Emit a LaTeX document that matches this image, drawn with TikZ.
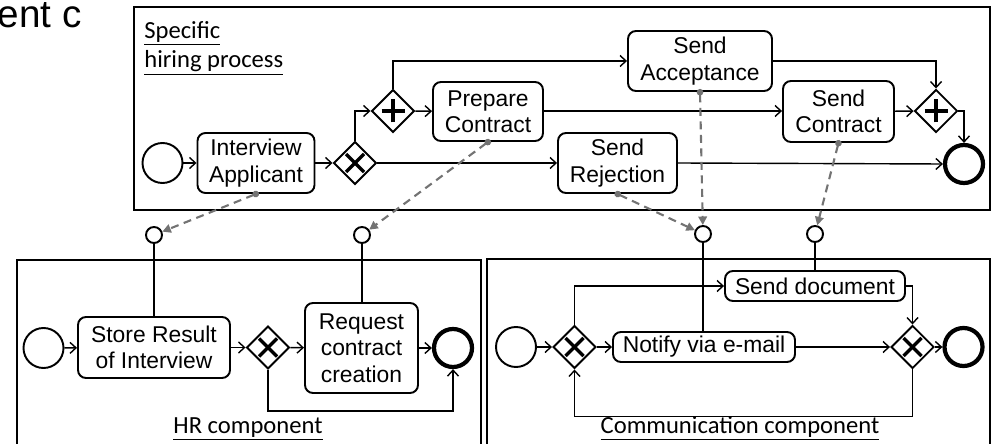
\documentclass[tikz,border=0pt]{standalone}
\usepackage{fontspec}
\setmainfont{Liberation Sans}
\newfontfamily\lanefont{Carlito}
\usetikzlibrary{arrows.meta, shapes.geometric}

\begin{document}
\begin{tikzpicture}[x=0.2mm, y=-0.2mm,
    font=\fontsize{13}{15}\selectfont,
    pool/.style={draw, line width=1.4pt},
    task/.style={draw, rounded corners=1.6mm, line width=1.1pt, align=center, inner sep=0pt},
    startev/.style={circle, draw, line width=1.1pt, minimum size=8mm, inner sep=0pt},
    endev/.style={circle, draw, line width=2.4pt, minimum size=7.6mm, inner sep=0pt},
    gateway/.style={diamond, draw, line width=1.1pt, minimum width=8.6mm, minimum height=8.6mm, inner sep=0pt},
    xorgw/.style={gateway, path picture={
        \draw[line width=1.9pt] ([shift={(-1.8mm,-1.8mm)}]path picture bounding box.center) -- ([shift={(1.8mm,1.8mm)}]path picture bounding box.center);
        \draw[line width=1.9pt] ([shift={(-1.8mm,1.8mm)}]path picture bounding box.center) -- ([shift={(1.8mm,-1.8mm)}]path picture bounding box.center);}},
    andgw/.style={gateway, path picture={
        \draw[line width=1.9pt] ([xshift=-2.3mm]path picture bounding box.center) -- ([xshift=2.3mm]path picture bounding box.center);
        \draw[line width=1.9pt] ([yshift=-2.3mm]path picture bounding box.center) -- ([yshift=2.3mm]path picture bounding box.center);}},
    port/.style={circle, draw, line width=1.1pt, minimum size=3.2mm, inner sep=0pt},
    flow/.style={line width=0.8pt, -{Straight Barb[length=1.2mm, width=2.2mm]}},
    wire/.style={line width=1.3pt},
    usage/.style={draw=black!55, line width=1.2pt, dash pattern=on 1.6mm off 1.1mm, shorten <=-0.6mm,
        {Circle[length=1.3mm, fill=black!55]}-{Triangle[length=1.7mm, width=1.7mm, fill=black!55]}},
    lanetitle/.style={font=\lanefont\fontsize{14}{16.5}\selectfont, inner sep=0pt}]
\useasboundingbox (0,0) rectangle (992,444);

% cut off heading
\node[anchor=base east, inner sep=0pt, font=\fontsize{22}{26}\selectfont] (heading) at (82,28) {ent c};

% Specific hiring process
\draw[pool] (134,7) rectangle (990,210);
\node[lanetitle, anchor=north west, align=left] (hiringtitle) at (144,21) {\underline{Specific}\\\underline{hiring process}};

\node[startev] (hstart) at (162.5,163) {};
\node[task, minimum width=23.4mm, minimum height=12mm] (interview) at (256,163) {Interview\\Applicant};
\node[xorgw] (hxor) at (355,163) {};
\node[andgw] (hsplit) at (393,111) {};
\node[task, minimum width=22mm, minimum height=11.8mm] (prepare) at (488,111.5) {Prepare\\Contract};
\node[task, minimum width=28.8mm, minimum height=12mm] (accept) at (700,61) {Send\\Acceptance};
\node[task, minimum width=22.2mm, minimum height=12.2mm] (contract) at (838.5,111.5) {Send\\Contract};
\node[andgw] (hjoin) at (936,111) {};
\node[task, minimum width=23.8mm, minimum height=12mm] (rejection) at (617.5,163) {Send\\Rejection};
\node[endev] (hend) at (964,164) {};

\draw[flow] (hstart) -- (interview);
\draw[flow] (interview) -- (hxor);
\draw[flow] (hxor.north) |- (hsplit.west);
\draw[flow] (hsplit) -- (prepare);
\draw[flow] (hsplit.north) |- (accept.west);
\draw[flow] (accept.east) -| (hjoin.north);
\draw[flow] (prepare.east |- hjoin) -- (contract.west |- hjoin);
\draw[flow] (contract) -- (hjoin);
\draw[flow] (hjoin.east) -| (hend.north);
\draw[flow] (hxor) -- (rejection);
\draw[flow] (rejection.east) -- (hend.west);

% HR component
\draw[pool] (17,260) rectangle (481,470);
\node[lanetitle, anchor=base] (hrtitle) at (248,433) {\underline{HR component}};

\node[port] (hrport1) at (154,235) {};
\node[port] (hrport2) at (362,235) {};
\node[startev] (rstart) at (43.5,348) {};
\node[task, minimum width=30.4mm, minimum height=12.2mm] (store) at (154,347.5) {Store Result\\of Interview};
\node[xorgw] (rxor) at (268,347.5) {};
\node[task, minimum width=22.6mm, minimum height=18mm] (request) at (361.5,348) {Request\\contract\\creation};
\node[endev] (rend) at (453,348) {};

\draw[flow] (rstart) -- (store);
\draw[flow] (store) -- (rxor);
\draw[flow] (rxor) -- (request);
\draw[flow] (request) -- (rend);
\draw[flow] (rxor.south) -- ++(0,41) -| (rend.south);
\draw[wire] (hrport1) -- (hrport1 |- store.north);
\draw[wire] (hrport2) -- (hrport2 |- request.north);

% Communication component
\draw[pool] (487,259) rectangle (990,470);
\node[lanetitle, anchor=base] (comtitle) at (740,433) {\underline{Communication component}};

\node[port] (comport1) at (703,234) {};
\node[port] (comport2) at (815,234) {};
\node[startev] (cstart) at (516,347) {};
\node[xorgw] (csplit) at (574.5,347) {};
\node[task, minimum width=36.4mm, minimum height=6mm] (notify) at (704,347) {Notify via e-mail};
\node[task, minimum width=36mm, minimum height=6mm] (senddoc) at (815,286) {Send document};
\node[xorgw] (cjoin) at (912.5,347) {};
\node[endev] (cend) at (963.5,347) {};

\draw[wire] (comport1) -- (comport1 |- notify.north);
\draw[wire] (comport2) -- (senddoc.north);
\draw[flow] (cstart) -- (csplit);
\draw[flow] (csplit) -- (notify);
\draw[flow] (notify) -- (cjoin);
\draw[flow] (cjoin) -- (cend);
\draw[flow] (csplit.north) |- (senddoc.west);
\draw[flow] (senddoc.east) -| (cjoin.north);
\draw[flow] (cjoin.south) -- ++(0,47) -| (csplit.south);

% usage of the components
\draw[usage] (interview.south) -- (hrport1);
\draw[usage] (prepare.south) -- (hrport2);
\draw[usage] (rejection.south) -- (comport1);
\draw[usage] (accept.south) -- (comport1);
\draw[usage] (contract.south) -- (comport2);
\end{tikzpicture}
\end{document}
